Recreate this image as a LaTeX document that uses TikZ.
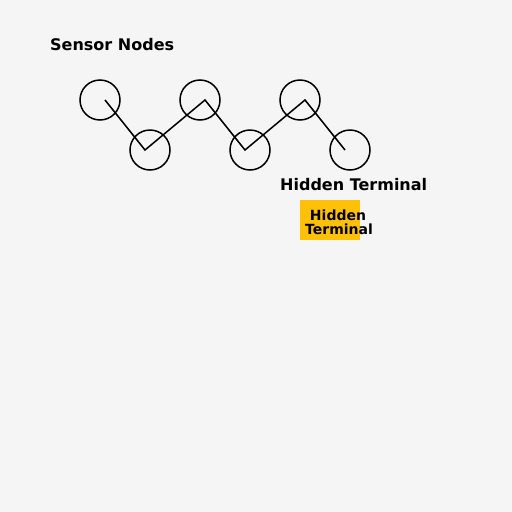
\documentclass[tikz,border=0pt]{standalone}
\usepackage{fontspec}
\setmainfont{DejaVu Sans}
\definecolor{bg}{HTML}{F5F5F5}
\definecolor{amber}{HTML}{FFC107}
\begin{document}
\begin{tikzpicture}[x=1pt,y=-1pt,
  sensor/.style={circle,draw=black,line width=1.5pt,minimum size=40pt,inner sep=0pt},
  title/.style={font=\fontsize{16}{19}\selectfont\bfseries,inner sep=0pt},
  small/.style={font=\fontsize{14}{14}\selectfont\bfseries,inner sep=0pt,anchor=base}]
\fill[bg] (0,0) rectangle (512,512);
\useasboundingbox (0,0) rectangle (512,512);
\node[title,anchor=base west] (t1) at (50,50) {Sensor Nodes};
\node[sensor] (n1) at (100,100) {};
\node[sensor] (n2) at (150,150) {};
\node[sensor] (n3) at (200,100) {};
\node[sensor] (n4) at (250,150) {};
\node[sensor] (n5) at (300,100) {};
\node[sensor] (n6) at (350,150) {};
\coordinate (p1) at (105,100);
\coordinate (p2) at (145,150);
\coordinate (p3) at (205,100);
\coordinate (p4) at (245,150);
\coordinate (p5) at (305,100);
\coordinate (p6) at (345,150);
\draw[line width=1.5pt] (p1) -- (p2) -- (p3) -- (p4) -- (p5) -- (p6);
\node[title,anchor=base west] (t2) at (280,190) {Hidden Terminal};
\fill[amber] (300,200) rectangle (360,240);
\node[small] (ht1) at (338,220) {Hidden};
\node[small] (ht2) at (339,234) {Terminal};
\end{tikzpicture}
\end{document}
